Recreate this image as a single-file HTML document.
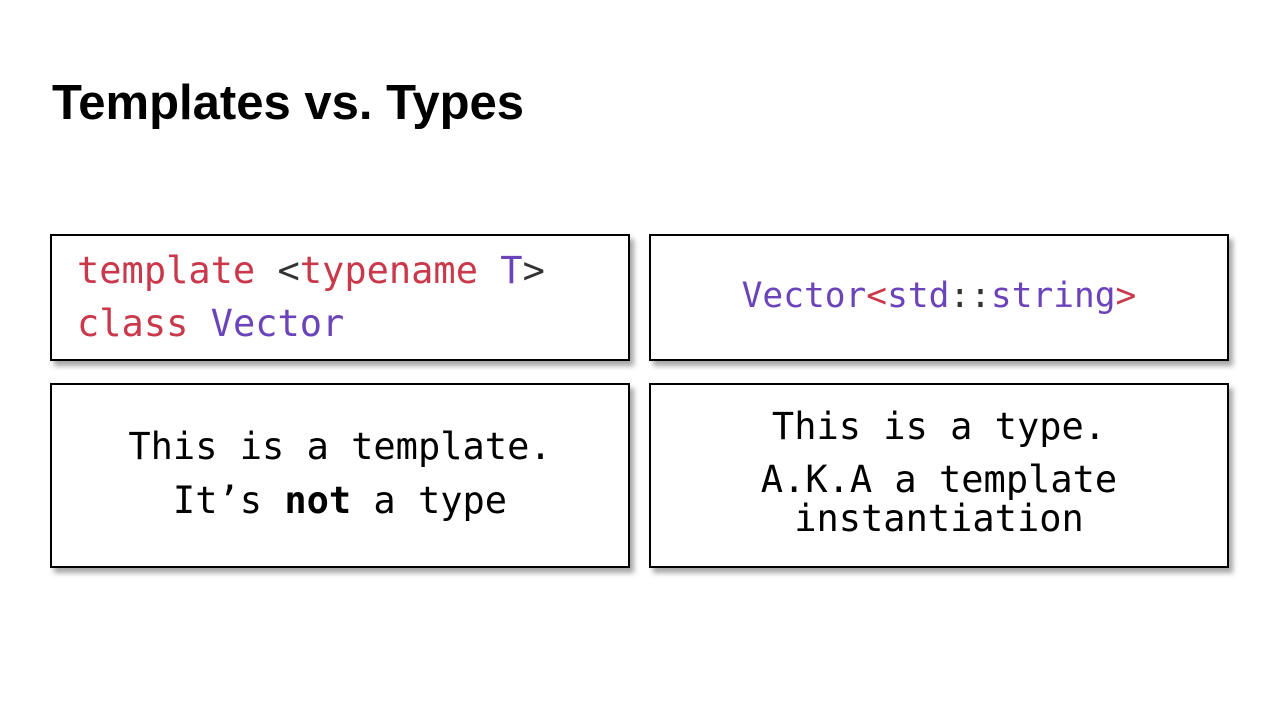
<!DOCTYPE html>
<html><head><style>
body{margin:0;width:1280px;height:720px;background:#fff;position:relative;overflow:hidden;font-family:"DejaVu Sans Mono",monospace}
h1{position:absolute;left:52px;top:75px;margin:0;font:bold 49px "Liberation Sans",sans-serif;letter-spacing:0px;color:#000}
.b{position:absolute;border:2px solid #000;box-sizing:border-box;box-shadow:4px 5px 5px rgba(0,0,0,.35);background:#fff;font-size:37px;color:#000}
.r{color:#c9384b}.p{color:#6b44b9}.k{color:#333}
.c{text-align:center}
</style></head><body>
<h1>Templates vs. Types</h1>
<div class="b" style="left:50px;top:234px;width:580px;height:127px;">
<div style="position:absolute;left:25px;top:8px;line-height:53px;white-space:pre"><span class="r">template</span> <span class="k">&lt;</span><span class="r">typename</span> <span class="p">T</span><span class="k">&gt;</span>
<span class="r">class</span> <span class="p">Vector</span></div></div>
<div class="b c" style="left:649px;top:234px;width:580px;height:127px;font-size:34.5px">
<div style="position:absolute;left:0;right:0;top:38px;line-height:45px"><span class="p">Vector</span><span class="r">&lt;</span><span class="p">std</span><span class="k">::</span><span class="p">string</span><span class="r">&gt;</span></div></div>
<div class="b c" style="left:50px;top:383px;width:580px;height:185px;">
<div style="position:absolute;left:0;right:0;top:35px;line-height:54px">This is a template.<br>It’s <b>not</b> a type</div></div>
<div class="b c" style="left:649px;top:383px;width:580px;height:185px;">
<div style="position:absolute;left:0;right:0;top:19px;line-height:45px">This is a type.</div>
<div style="position:absolute;left:0;right:0;top:75px;line-height:39px">A.K.A a template<br>instantiation</div></div>
</body></html>
